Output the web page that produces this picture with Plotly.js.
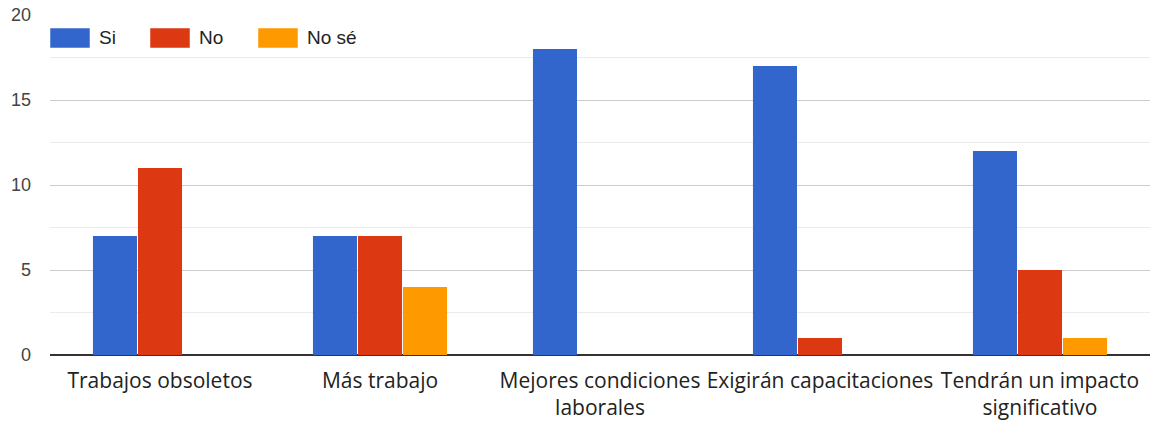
<!DOCTYPE html>
<html>
<head>
<meta charset="utf-8">
<script src="https://cdn.plot.ly/plotly-3.0.1.min.js"></script>
<style>html,body{margin:0;padding:0;background:#fff;}#chart{width:1161px;height:426px;}</style>
</head>
<body>
<div id="chart"></div>
<script>
const categories = ["Trabajos obsoletos", "Más trabajo", "Mejores condiciones<br>laborales", "Exigirán capacitaciones", "Tendrán un impacto<br>significativo"];
const seriesNames = ["Si", "No", "No sé"];
const siValues = [7, 7, 18, 17, 12];
const noValues = [11, 7, 0, 1, 5];
const noSeValues = [0, 4, 0, 0, 1];
const colors = ["#3366cc", "#dc3912", "#ff9900"];
const yTicks = [0, 5, 10, 15, 20];

const W = 1161, H = 426;
const margin = {l: 50, r: 11, t: 15, b: 71};
const pw = W - margin.l - margin.r, ph = H - margin.t - margin.b;
const px = x => (x - margin.l) / pw;
const py = y => (H - margin.b - y) / ph;

const allValues = [siValues, noValues, noSeValues];
const traces = allValues.map((vals, i) => ({
  type: 'bar', x: categories, y: vals, name: seriesNames[i],
  marker: {color: colors[i]}, hoverinfo: 'none'
}));

// custom legend (swatch + text) placed like the reference
const legendX = [50, 150, 258];
const shapes = [], annotations = [];
seriesNames.forEach((n, i) => {
  shapes.push({type: 'rect', xref: 'paper', yref: 'paper',
    x0: px(legendX[i]), x1: px(legendX[i] + 40), y0: py(48), y1: py(28),
    fillcolor: colors[i], line: {width: 1, color: 'rgba(255,255,255,0.5)'}});
  annotations.push({xref: 'paper', yref: 'paper', x: px(legendX[i] + 47), y: py(38),
    xanchor: 'left', yanchor: 'middle', showarrow: false, text: n,
    font: {family: 'Liberation Sans, Arial, sans-serif', size: 19, color: '#222'}});
});

const layout = {
  width: W, height: H, margin: margin,
  paper_bgcolor: '#fff', plot_bgcolor: '#fff',
  showlegend: false, barmode: 'group', bargap: 0.386, bargroupgap: 0.022,
  xaxis: {
    type: 'category', showgrid: false, zeroline: false, showline: false,
    ticks: '', ticklabelstandoff: 11,
    tickfont: {family: 'Open Sans, Noto Sans, sans-serif', size: 21, color: '#222'}
  },
  yaxis: {
    range: [0, 20], tickvals: yTicks, ticktext: yTicks.map(String),
    showgrid: true, gridcolor: '#cccccc', gridwidth: 1,
    zeroline: true, zerolinecolor: '#333', zerolinewidth: 2,
    minor: {dtick: 2.5, showgrid: true, gridcolor: '#ebebeb', gridwidth: 1},
    ticks: '', ticklabelstandoff: 18,
    tickfont: {family: 'Liberation Sans, Arial, sans-serif', size: 18, color: '#444'}
  },
  shapes: shapes, annotations: annotations
};

Plotly.newPlot('chart', traces, layout, {staticPlot: true, displayModeBar: false});
</script>
</body>
</html>
